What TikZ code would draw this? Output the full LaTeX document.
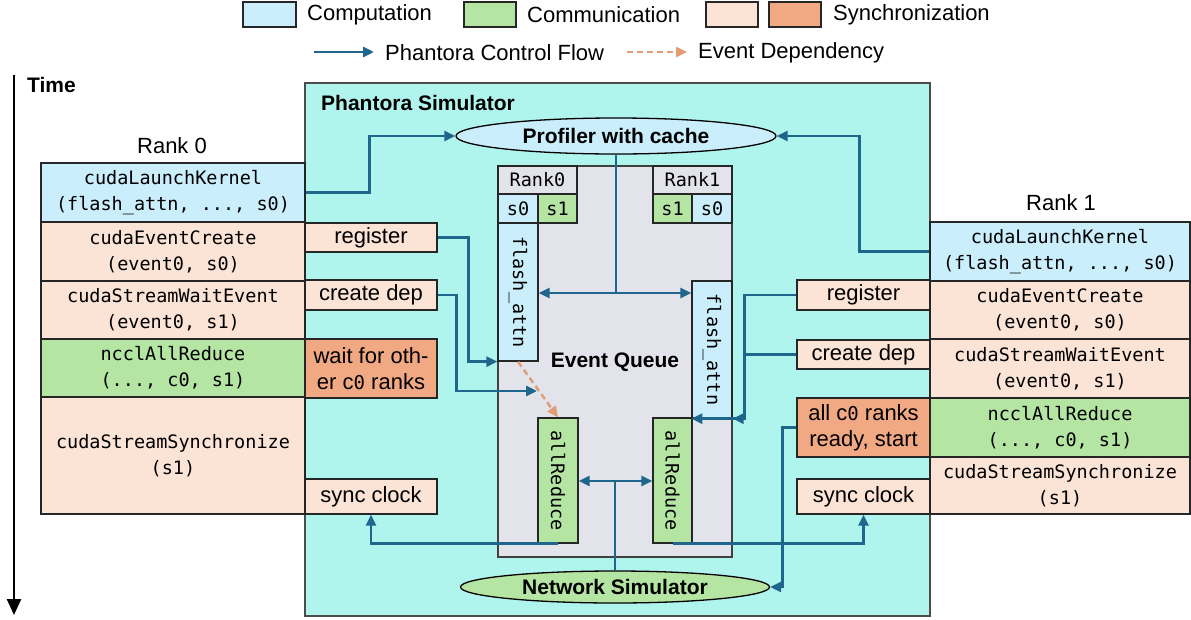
\documentclass[tikz,border=0pt]{standalone}
\usepackage{fontspec}
\setmainfont{Liberation Sans}
\setmonofont{DejaVu Sans Mono}
\usetikzlibrary{arrows.meta,shapes.geometric,calc}
\definecolor{simbg}{RGB}{176,244,238}
\definecolor{compc}{RGB}{202,238,251}
\definecolor{commc}{RGB}{180,229,162}
\definecolor{synlc}{RGB}{251,227,214}
\definecolor{syndc}{RGB}{241,169,131}
\definecolor{queuec}{RGB}{227,227,235}
\definecolor{flowc}{RGB}{31,102,140}
\definecolor{depc}{RGB}{226,155,115}
\newcommand{\mfont}{\fontsize{18.5}{26}\selectfont\ttfamily}
\newcommand{\sfont}{\fontsize{22}{26}\selectfont}
\newcommand{\bfont}{\fontsize{21}{26}\selectfont\bfseries}
\newcommand{\mz}{{\fontsize{19}{26}\selectfont\ttfamily 0}}
\tikzset{
  box/.style={draw=black!85, line width=1.3pt, inner sep=0pt, align=center},
  mbox/.style={box, font=\mfont},
  sbox/.style={box, font=\sfont},
  flow/.style={draw=flowc, line width=2.8pt, -{Triangle[length=11pt,width=10pt]}},
  flowline/.style={draw=flowc, line width=2.8pt},
  dep/.style={draw=depc, line width=2.4pt, dash pattern=on 6pt off 4pt, -{Triangle[length=11pt,width=10pt]}},
}
\begin{document}
\begin{tikzpicture}[x=1pt,y=-1pt]
\useasboundingbox (0,0) rectangle (1191,619);
% legend
\node[box, fill=compc, minimum width=53pt, minimum height=25pt] (lgcomp) at (269.5,14.5) {};
\node[anchor=west, font=\sfont, inner sep=0] (lgcompt) at (307,15) {Computation};
\node[box, fill=commc, minimum width=52pt, minimum height=25pt] (lgcomm) at (490,14.5) {};
\node[anchor=west, font=\sfont, inner sep=0] (lgcommt) at (527,15) {Communication};
\node[box, fill=synlc, minimum width=52pt, minimum height=25pt] (lgsynl) at (732,14.5) {};
\node[box, fill=syndc, minimum width=52pt, minimum height=25pt] (lgsynd) at (795,14.5) {};
\node[anchor=west, font=\sfont, inner sep=0] (lgsynt) at (833,15) {Synchronization};
\coordinate (lga) at (314,52);
\coordinate (lgb) at (374,52);
\draw[flow] (lga) -- (lgb);
\node[anchor=west, font=\sfont, inner sep=0] (lgflow) at (385,53) {Phantora Control Flow};
\coordinate (lgc) at (627,52);
\coordinate (lgd) at (687,52);
\draw[dep] (lgc) -- (lgd);
\node[anchor=west, font=\sfont, inner sep=0] (lgdep) at (698,53) {Event Dependency};
% time
\coordinate (t0) at (14,75);
\coordinate (t1) at (14,615);
\draw[line width=2.5pt, -{Triangle[length=16pt,width=14pt]}] (t0) -- (t1);
\node[anchor=west, font=\bfont, inner sep=0] (time) at (27,85) {Time};
% simulator
\node[draw=black!70, fill=simbg, line width=1.3pt, minimum width=625pt, minimum height=533pt, inner sep=0] (sim) at (617.5,349.5) {};
\node[anchor=west, font=\bfont, inner sep=0] (simt) at (321,103) {Phantora Simulator};
% rank 0 column
\node[font=\sfont] (rank0) at (172,146) {Rank 0};
\node[mbox, fill=compc, minimum width=264pt, minimum height=59pt] (L1) at (173,192.5) {cudaLaunchKernel\\(flash\_attn, ..., s0)};
\node[mbox, fill=synlc, minimum width=264pt, minimum height=59pt] (L2) at (173,251.5) {cudaEventCreate\\(event0, s0)};
\node[mbox, fill=synlc, minimum width=264pt, minimum height=58pt] (L3) at (173,310) {cudaStreamWaitEvent\\(event0, s1)};
\node[mbox, fill=commc, minimum width=264pt, minimum height=58pt] (L4) at (173,368) {ncclAllReduce\\(..., c0, s1)};
\node[mbox, fill=synlc, minimum width=264pt, minimum height=117pt] (L5) at (173,455.5) {cudaStreamSynchronize\\(s1)};
% rank 1 column
\node[font=\sfont] (rank1) at (1061,203) {Rank 1};
\node[mbox, fill=compc, minimum width=260pt, minimum height=59pt] (R1) at (1060,251.5) {cudaLaunchKernel\\(flash\_attn, ..., s0)};
\node[mbox, fill=synlc, minimum width=260pt, minimum height=58pt] (R2) at (1060,310) {cudaEventCreate\\(event0, s0)};
\node[mbox, fill=synlc, minimum width=260pt, minimum height=59pt] (R3) at (1060,368.5) {cudaStreamWaitEvent\\(event0, s1)};
\node[mbox, fill=commc, minimum width=260pt, minimum height=59pt] (R4) at (1060,427.5) {ncclAllReduce\\(..., c0, s1)};
\node[mbox, fill=synlc, minimum width=260pt, minimum height=57pt] (R5) at (1060,485.5) {cudaStreamSynchronize\\(s1)};
% inner left
\node[sbox, fill=synlc, minimum width=132pt, minimum height=29pt] (reg0) at (371,237.5) {register};
\node[sbox, fill=synlc, minimum width=132pt, minimum height=30pt] (dep0) at (371,295) {create dep};
\node[sbox, fill=syndc, minimum width=132pt, minimum height=59pt] (wait0) at (371,368.5) {wait for oth-\\er c\mz{} ranks};
\node[sbox, fill=synlc, minimum width=132pt, minimum height=35pt] (sync0) at (371,496.5) {sync clock};
% inner right
\node[sbox, fill=synlc, minimum width=133pt, minimum height=30pt] (reg1) at (863.5,295) {register};
\node[sbox, fill=synlc, minimum width=133pt, minimum height=29pt] (dep1) at (863.5,354.5) {create dep};
\node[sbox, fill=syndc, minimum width=133pt, minimum height=59pt] (ready1) at (863.5,427.5) {all c\mz{} ranks\\ready, start};
\node[sbox, fill=synlc, minimum width=133pt, minimum height=35pt] (sync1) at (863.5,496.5) {sync clock};
% ellipses
\node[ellipse, draw=black, line width=1.3pt, fill=compc, inner sep=0, minimum width=320pt, minimum height=36pt, font=\bfont] (prof) at (616,136) {Profiler with cache};
\node[ellipse, draw=black, line width=1.3pt, fill=commc, inner sep=0, minimum width=309pt, minimum height=32pt, font=\bfont] (net) at (615,587) {Network Simulator};
% event queue
\node[draw=black!75, fill=queuec, line width=1.3pt, minimum width=234pt, minimum height=391pt, inner sep=0] (eq) at (615,361.5) {};
\node[font=\bfont, inner sep=0] (eqt) at (615,362) {Event Queue};
\node[mbox, fill=queuec, minimum width=79pt, minimum height=28pt] (rk0) at (537.5,180) {Rank0};
\node[mbox, fill=compc, minimum width=40pt, minimum height=29pt] (s00) at (518,208.5) {s0};
\node[mbox, fill=commc, minimum width=39pt, minimum height=29pt] (s10) at (557.5,208.5) {s1};
\node[mbox, fill=queuec, minimum width=79pt, minimum height=28pt] (rk1) at (692.5,180) {Rank1};
\node[mbox, fill=commc, minimum width=39pt, minimum height=29pt] (s11) at (672.5,208.5) {s1};
\node[mbox, fill=compc, minimum width=40pt, minimum height=29pt] (s01) at (712,208.5) {s0};
\node[box, fill=compc, minimum width=40pt, minimum height=138pt] (fa0) at (518,292) {};
\node[rotate=-90, font=\mfont, inner sep=0] (fa0t) at (fa0) {flash\_attn};
\node[box, fill=compc, minimum width=40pt, minimum height=137pt] (fa1) at (712,349.5) {};
\node[rotate=-90, font=\mfont, inner sep=0] (fa1t) at (fa1) {flash\_attn};
\node[box, fill=commc, minimum width=40pt, minimum height=125pt] (ar0) at (558,480.5) {};
\node[rotate=-90, font=\mfont, inner sep=0] (ar0t) at (ar0) {allReduce};
\node[box, fill=commc, minimum width=39pt, minimum height=125pt] (ar1) at (672.5,480.5) {};
\node[rotate=-90, font=\mfont, inner sep=0] (ar1t) at (ar1) {allReduce};
% connectors
\draw[flow] (L1.east) -- ++(64,0) |- (prof.west);
\draw[flow] (R1.west) -- ++(-70,0) |- (prof.east);
\coordinate (j1) at (prof.south |- 0,293);
\draw[flowline] (prof.south) -- (j1);
\draw[flow] (j1) -- (fa0.east |- j1);
\draw[flow] (j1) -- (fa1.west |- j1);
\draw[flow] (reg0.east) -- ++(31,0) |- (fa0.south west);
\coordinate (dep0tip) at (537,391);
\draw[flow] (dep0.east) -- ++(19,0) |- (dep0tip);
\draw[dep] (fa0.south) -- (ar0.north);
\draw[flow] (dep1.west) -- ++(-52,0) |- (fa1.south west);
\draw[flow] (reg1.west) -- ++(-52,0) |- (fa1.south east);
\draw[flow] (ready1.west) -- ++(-14,0) |- (net.east);
\draw[flow] (ar0.south) -| (sync0.south);
\draw[flow] (ar1.south) -| (sync1.south);
\coordinate (j2) at (net.north |- 0,481);
\draw[flowline] (net.north) -- (j2);
\draw[flow] (j2) -- (ar0.east |- j2);
\draw[flow] (j2) -- (ar1.west |- j2);
\end{tikzpicture}
\end{document}
